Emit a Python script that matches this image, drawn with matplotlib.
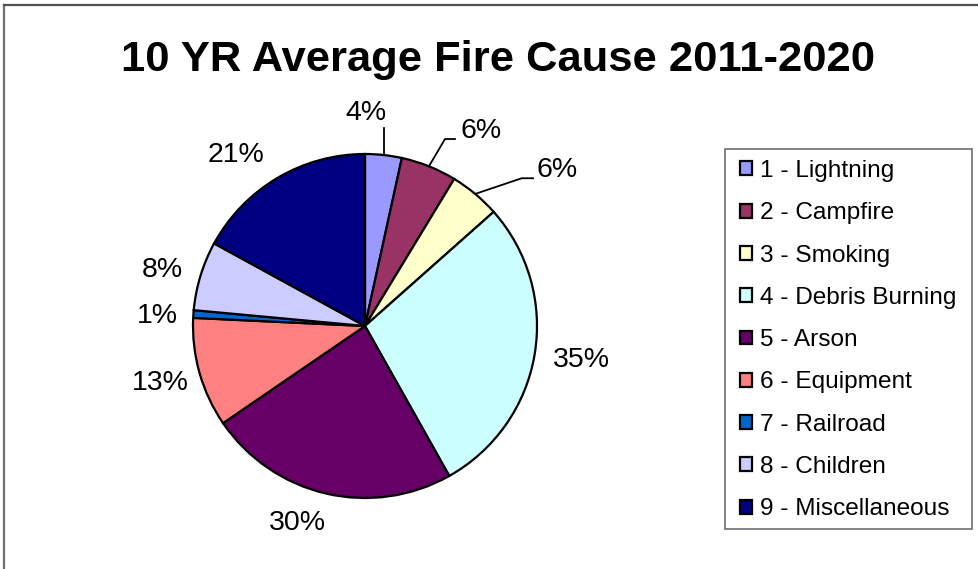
import numpy as np
import matplotlib
matplotlib.use('Agg')
import matplotlib.pyplot as plt
from matplotlib.patches import Rectangle
from matplotlib.lines import Line2D

plt.rcParams['font.family'] = ['Liberation Sans', 'DejaVu Sans']

# data (slice sizes) and the printed labels
causes = ['1 - Lightning', '2 - Campfire', '3 - Smoking', '4 - Debris Burning', '5 - Arson',
          '6 - Equipment', '7 - Railroad', '8 - Children', '9 - Miscellaneous']
shares = [3.44, 5.24, 4.77, 28.4, 23.6, 10.3, 0.72, 6.5, 17.03]
pct_labels = ['4%', '6%', '6%', '35%', '30%', '13%', '1%', '8%', '21%']
colors = ['#9999FF', '#993366', '#FFFFCC', '#CCFFFF', '#660066',
          '#FF8080', '#0066CC', '#CCCCFF', '#000080']

# label placement (pie radius = 1)
label_pos = [(0.006, 1.238), (0.674, 1.134), (1.116, 0.907), (1.256, -0.198), (-0.395, -1.145),
             (-1.192, -0.331), (-1.209, 0.058), (-1.180, 0.326), (-0.750, 0.994)]
# leader line elbows for the small slices
leaders = {0: [(0.110, 1.151)],
           1: [(0.465, 1.087), (0.523, 1.087)],
           2: [(0.911, 0.859), (0.977, 0.859)]}

W, H = 979, 569
fig = plt.figure(figsize=(W / 100, H / 100), dpi=100)

# chart border (left and top only visible)
fig.add_artist(Line2D([4.5 / W, 4.5 / W], [0, 1 - 4.5 / H], transform=fig.transFigure,
                      color='#707070', lw=1.6))
fig.add_artist(Line2D([4.5 / W, 1], [1 - 4.5 / H, 1 - 4.5 / H], transform=fig.transFigure,
                      color='#505050', lw=1.6))

fig.text(498 / W, 1 - 60 / H, '10 YR Average Fire Cause 2011-2020', fontsize=31.3,
         fontweight='bold', ha='center', va='center')

cx, cy, r = 365, 326, 172
ax = fig.add_axes([(cx - r) / W, (H - cy - r) / H, 2 * r / W, 2 * r / H])
wedges, _ = ax.pie(shares, colors=colors, startangle=90, counterclock=False,
                   wedgeprops=dict(edgecolor='black', linewidth=1.6))
ax.set_xlim(-1, 1)
ax.set_ylim(-1, 1)
ax.set_aspect('auto')
ax.axis('off')

for i, w in enumerate(wedges):
    lx, ly = label_pos[i]
    ax.text(lx, ly, pct_labels[i], fontsize=20.5, ha='center', va='center', clip_on=False)
    if i in leaders:
        mid = np.deg2rad((w.theta1 + w.theta2) / 2)
        start = (np.cos(mid), np.sin(mid))
        if i == 0:
            pts = [start, (start[0], leaders[i][0][1])]
        else:
            pts = [start] + leaders[i]
        xs, ys = zip(*pts)
        ax.plot(xs, ys, color='black', lw=1.3, clip_on=False)

# legend with separate frame
fig.add_artist(Rectangle((724.5 / W, 1 - 529 / H), (972 - 724.5) / W, (529 - 149) / H,
                         transform=fig.transFigure, fill=False, edgecolor='#707070', lw=1.2))
fig.legend(wedges, causes, loc='upper left', bbox_to_anchor=(740 / W, 1 - 160 / H),
           frameon=False, borderpad=0, borderaxespad=0, fontsize=17.6,
           handlelength=0.5, handleheight=0.5, handletextpad=0.3, labelspacing=0.83)

fig.savefig('out.png', dpi=100)
